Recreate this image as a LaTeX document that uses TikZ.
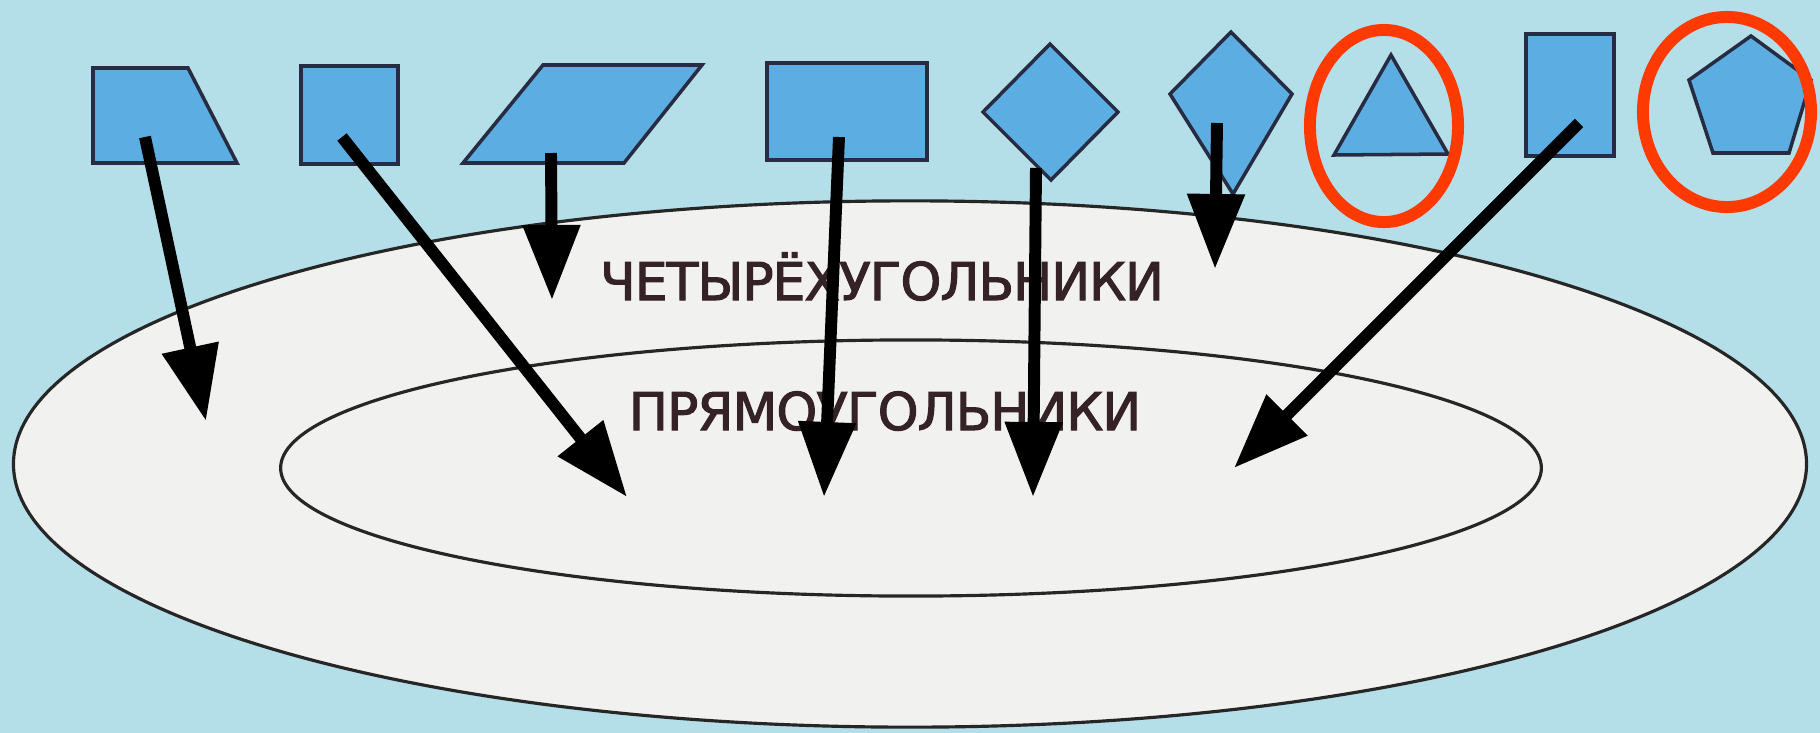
\documentclass[tikz,border=0pt]{standalone}
\usepackage{fontspec}
\newfontfamily\setfont[FakeBold=2, LetterSpace=-2]{DejaVu Sans}
\usetikzlibrary{arrows.meta}
\definecolor{bgblue}{RGB}{180,222,232}
\definecolor{figblue}{RGB}{92,174,226}
\definecolor{figline}{RGB}{40,44,66}
\definecolor{setfill}{RGB}{241,241,239}
\definecolor{markred}{RGB}{255,58,0}
\definecolor{textdark}{RGB}{52,34,38}

\begin{document}
\begin{tikzpicture}[x=0.01cm, y=-0.01cm,
  figure/.style={line width=1pt, draw=figline, fill=figblue},
  setline/.style={line width=0.9pt, draw=black!85, fill=setfill},
  pointer/.style={line width=3.4pt, -{Triangle[length=7.5mm, width=5.5mm]}},
  odd/.style={line width=3.4pt, draw=markred},
  setname/.style={font=\setfont\fontsize{14.8}{16}\selectfont, text=textdark, inner sep=0pt, anchor=base}]
  \fill[bgblue] (0,0) rectangle (1820,733);
  \useasboundingbox (0,0) rectangle (1820,733);
  % sets
  \filldraw[setline] (910,464) ellipse [x radius=8.96cm, y radius=2.63cm];
  \filldraw[setline] (911,468) ellipse [x radius=6.30cm, y radius=1.28cm];
  \node[setname] (quads) at (882,300) {ЧЕТЫРЁХУГОЛЬНИКИ};
  \node[setname] (rects) at (885,430) {ПРЯМОУГОЛЬНИКИ};
  % figures
  \filldraw[figure] (93,68) -- (188,68) -- (237,163) -- (93,163) -- cycle;
  \filldraw[figure] (301,66) rectangle (398,164);
  \filldraw[figure] (543,65) -- (702,65) -- (624,163) -- (463,163) -- cycle;
  \filldraw[figure] (767,63) rectangle (927,160);
  \filldraw[figure] (983,112) -- (1050,44) -- (1118,112) -- (1051,180) -- cycle;
  \filldraw[figure] (1170,94) -- (1231,32) -- (1292,94) -- (1233,194) -- cycle;
  \filldraw[figure] (1391,55) -- (1448,154) -- (1334,155) -- cycle;
  \filldraw[figure] (1526,34) rectangle (1614,156);
  \filldraw[figure] (1751,36) -- (1811,80) -- (1789,153) -- (1713,153) -- (1689,80) -- cycle;
  % not quadrilaterals
  \draw[odd] (1384,126) ellipse [x radius=0.74cm, y radius=0.96cm];
  \draw[odd] (1727,112) ellipse [x radius=0.84cm, y radius=0.95cm];
  % arrows
  \coordinate (s1) at (145,137);  \coordinate (t1) at (206,421);
  \coordinate (s2) at (342,137);  \coordinate (t2) at (627,497);
  \coordinate (s3) at (551,153);  \coordinate (t3) at (552,300);
  \coordinate (s4) at (839,137);  \coordinate (t4) at (824,497);
  \coordinate (s5) at (1036,168); \coordinate (t5) at (1033,497);
  \coordinate (s6) at (1217,123); \coordinate (t6) at (1215,269);
  \coordinate (s7) at (1579,123); \coordinate (t7) at (1234,468);
  \foreach \i in {1,...,7}
    \draw[pointer] (s\i) -- (t\i);
\end{tikzpicture}
\end{document}
